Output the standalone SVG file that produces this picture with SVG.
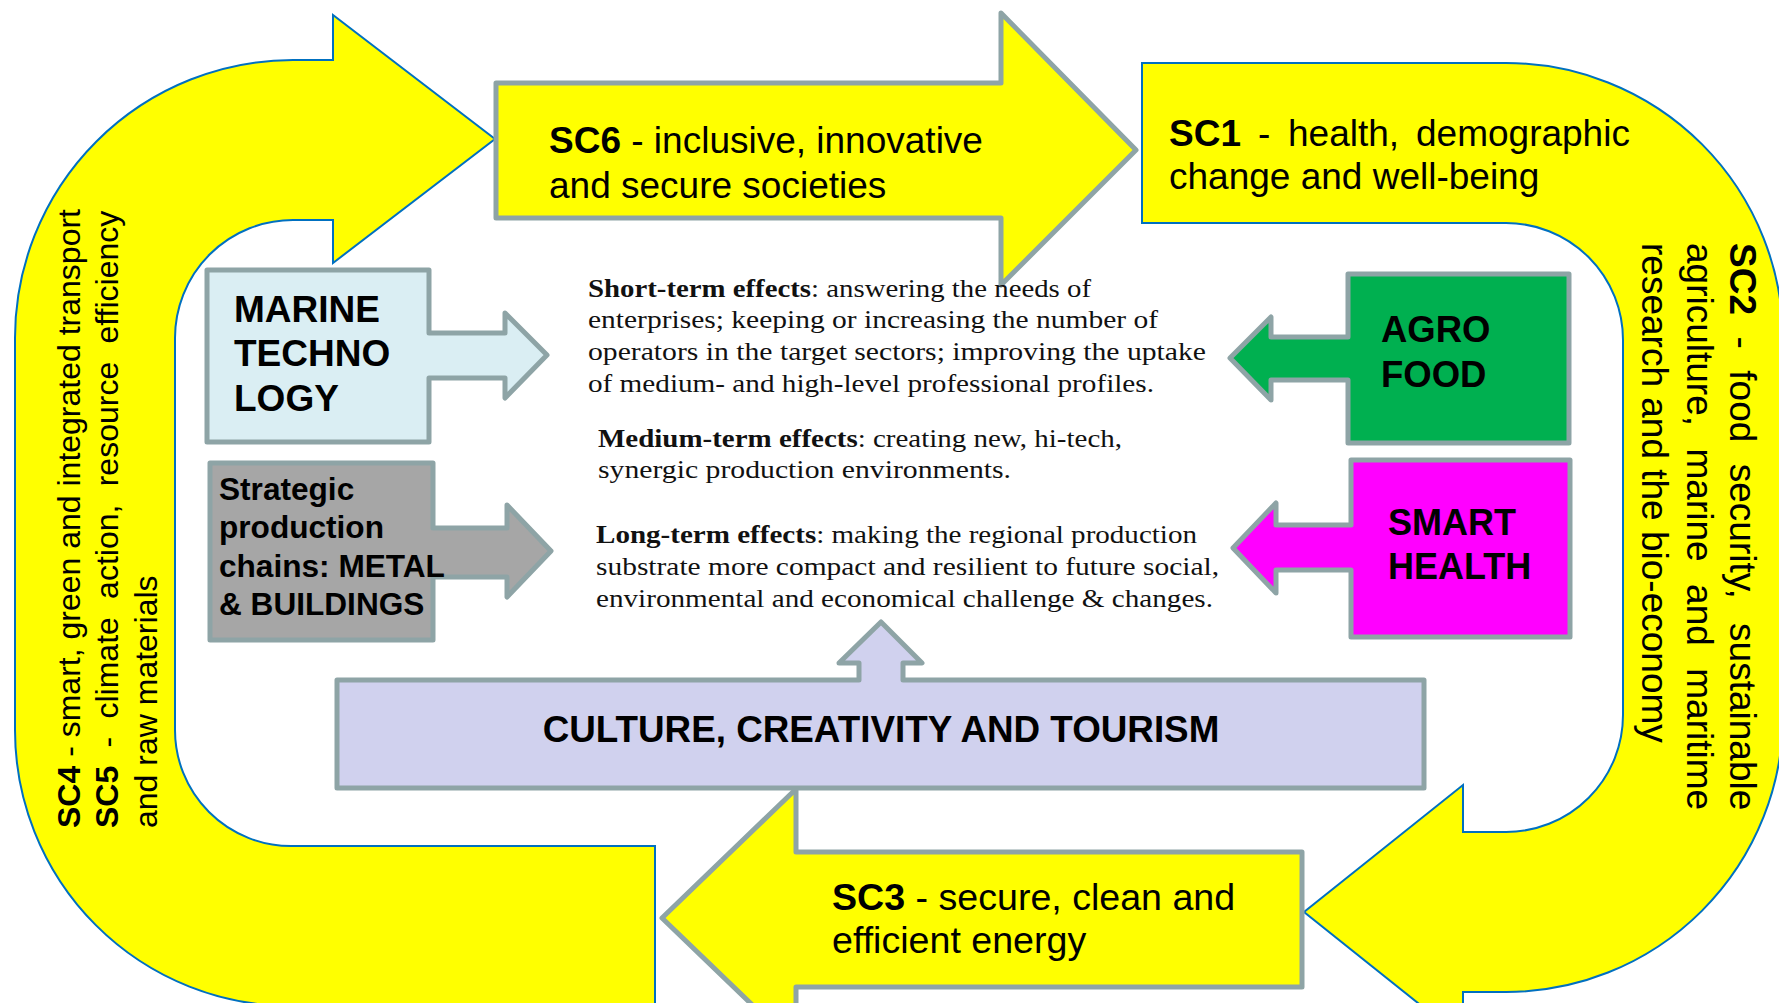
<svg xmlns="http://www.w3.org/2000/svg" width="1779" height="1003" viewBox="0 0 1779 1003">
<style>
.u{fill:#FFFF00;stroke:#0070C0;stroke-width:2;stroke-linejoin:miter}
.g{stroke:#8EA4A6;stroke-width:5;stroke-linejoin:round}
.y{fill:#FFFF00}
.s{font-family:"Liberation Sans",Arial,sans-serif;fill:#000}
.b{font-weight:bold}
.f{font-family:"Liberation Serif","Times New Roman",serif;font-size:25.5px;fill:#111}
</style>
<rect width="1779" height="1003" fill="#FFFFFF"/>
<g id="sc45">
<path class="u" d="M655 846 L291 846 A116 116 0 0 1 175 730 L175 338 A118 118 0 0 1 293 220 L333 220 L333 263 L495 139 L333 15 L333 60 L293 60 A278 278 0 0 0 15 338 L15 730 A276 276 0 0 0 291 1006 L655 1006 Z"/>
<g transform="translate(80,828) rotate(-90)" class="s" font-size="32">
<text x="0" y="0"><tspan class="b">SC4</tspan> - smart, green and integrated transport</text>
<text y="38"><tspan class="b" x="0">SC5</tspan><tspan x="80.5">-</tspan><tspan x="109.5">climate</tspan><tspan x="229.1">action,</tspan><tspan x="341.7">resource</tspan><tspan x="484.5">efficiency</tspan></text>
<text x="0" y="77">and raw materials</text>
</g>
</g>
<g id="sc2">
<path class="u" d="M1142 63 L1506 63 A277 277 0 0 1 1783 340 L1783 715 A277 277 0 0 1 1506 992 L1463 992 L1463 1039 L1304 912 L1463 785 L1463 832 L1506 832 A117 117 0 0 0 1623 715 L1623 340 A117 117 0 0 0 1506 223 L1142 223 Z"/>
<text class="s" font-size="37"><tspan class="b" x="1169" y="146">SC1</tspan><tspan x="1258">-</tspan><tspan x="1288">health,</tspan><tspan x="1416">demographic</tspan></text>
<text class="s" font-size="37" x="1169" y="189">change and well-being</text>
<g transform="translate(1730,243) rotate(90)" class="s" font-size="37">
<text y="0"><tspan class="b" x="0">SC2</tspan><tspan x="93.5">-</tspan><tspan x="127.3">food</tspan><tspan x="220.8">security,</tspan><tspan x="380.1">sustainable</tspan></text>
<text y="43"><tspan x="0">agriculture,</tspan><tspan x="205.5">marine</tspan><tspan x="341.1">and</tspan><tspan x="425.3">maritime</tspan></text>
<text x="0" y="88">research and the bio-economy</text>
</g>
</g>
<g id="sc6">
<polygon class="g y" points="496,83 1001,83 1001,13 1136,150 1001,285 1001,218 496,218"/>
<text class="s" font-size="37" x="549" y="153"><tspan class="b">SC6</tspan> - inclusive, innovative</text>
<text class="s" font-size="37" x="549" y="198">and secure societies</text>
</g>
<g id="sc3">
<polygon class="g y" points="662,918 796,789 796,852 1302,852 1302,987 796,987 796,1047"/>
<text class="s" font-size="37.6" x="832" y="910"><tspan class="b">SC3</tspan> - secure, clean and</text>
<text class="s" font-size="37.6" x="832" y="953">efficient energy</text>
</g>
<g id="marine">
<polygon class="g" fill="#DAEEF3" points="207,270 429,270 429,333 505,333 505,313 547,355 505,398 505,378 429,378 429,442 207,442"/>
<text class="s b" font-size="37"><tspan x="234" y="322">MARINE</tspan><tspan x="234" y="366">TECHNO</tspan><tspan x="234" y="411">LOGY</tspan></text>
</g>
<g id="strategic">
<polygon class="g" fill="#A6A6A6" points="210,463 433,463 433,528 507,528 507,505 551,551 507,597 507,577 433,577 433,640 210,640"/>
<text class="s b" font-size="31.6"><tspan x="219" y="500">Strategic</tspan><tspan x="219" y="538">production</tspan><tspan x="219" y="577">chains: METAL</tspan><tspan x="219" y="615">&amp; BUILDINGS</tspan></text>
</g>
<g id="agrofood">
<polygon class="g" fill="#00B050" points="1348,274 1569,274 1569,443 1348,443 1348,380 1271,380 1271,400 1230,358 1271,317 1271,337 1348,337"/>
<text class="s b" font-size="36.5"><tspan x="1381" y="342">AGRO</tspan><tspan x="1381" y="387">FOOD</tspan></text>
</g>
<g id="smarthealth">
<polygon class="g" fill="#FF00FF" points="1351,460 1570,460 1570,637 1351,637 1351,570 1276,570 1276,593 1233,548 1276,503 1276,525 1351,525"/>
<text class="s b" font-size="36"><tspan x="1388" y="535">SMART</tspan><tspan x="1388" y="579">HEALTH</tspan></text>
</g>
<g id="culture">
<polygon class="g" fill="#D0D1EE" points="337,680 859,680 859,663 839,663 881,622 922,663 903,663 903,680 1424,680 1424,788 337,788"/>
<text class="s b" font-size="36.8" x="881" y="742" text-anchor="middle">CULTURE, CREATIVITY AND TOURISM</text>
</g>
<g id="effects">
<text class="f" x="588" y="297" textLength="503" lengthAdjust="spacingAndGlyphs"><tspan font-weight="bold">Short-term effects</tspan>: answering the needs of</text>
<text class="f" x="588" y="328" textLength="570" lengthAdjust="spacingAndGlyphs">enterprises; keeping or increasing the number of</text>
<text class="f" x="588" y="360" textLength="618" lengthAdjust="spacingAndGlyphs">operators in the target sectors; improving the uptake</text>
<text class="f" x="588" y="392" textLength="566" lengthAdjust="spacingAndGlyphs">of medium- and high-level professional profiles.</text>
<text class="f" x="598" y="447" textLength="524" lengthAdjust="spacingAndGlyphs"><tspan font-weight="bold">Medium-term effects</tspan>: creating new, hi-tech,</text>
<text class="f" x="598" y="478" textLength="413" lengthAdjust="spacingAndGlyphs">synergic production environments.</text>
<text class="f" x="596" y="543" textLength="601" lengthAdjust="spacingAndGlyphs"><tspan font-weight="bold">Long-term effects</tspan>: making the regional production</text>
<text class="f" x="596" y="575" textLength="623" lengthAdjust="spacingAndGlyphs">substrate more compact and resilient to future social,</text>
<text class="f" x="596" y="607" textLength="617" lengthAdjust="spacingAndGlyphs">environmental and economical challenge &amp; changes.</text>
</g>
</svg>
